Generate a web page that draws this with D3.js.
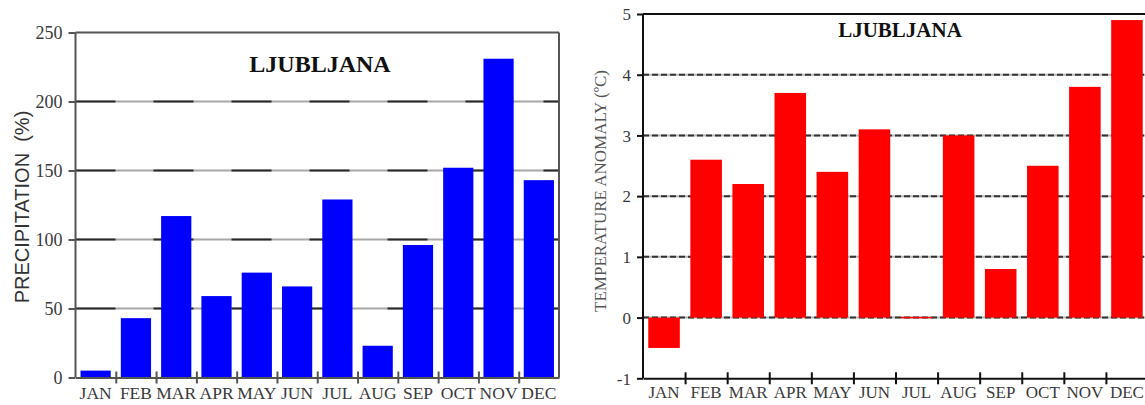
<!DOCTYPE html>
<html>
<head>
<meta charset="utf-8">
<script src="https://cdn.jsdelivr.net/npm/d3@7"></script>
<style>
  html, body { margin: 0; padding: 0; background: #fff; }
  svg { display: block; }
</style>
</head>
<body>
<svg id="chart" width="1145" height="405"></svg>
<script>
// Monthly anomalies for Ljubljana
const months = ["JAN","FEB","MAR","APR","MAY","JUN","JUL","AUG","SEP","OCT","NOV","DEC"];
const precipitation = [5, 43, 117, 59, 76, 66, 129, 23, 96, 152, 231, 143];       // % of normal
const temperatureAnomaly = [-0.5, 2.6, 2.2, 3.7, 2.4, 3.1, 0, 3.0, 0.8, 2.5, 3.8, 4.9]; // °C
const precipTicks = [0, 50, 100, 150, 200, 250];
const tempTicks = [-1, 0, 1, 2, 3, 4, 5];
const stationName = "LJUBLJANA";

const svg = d3.select("#chart");
const serif = "'Liberation Serif', 'Times New Roman', serif";
const sans = "'Liberation Sans', Arial, sans-serif";

function panel(opts) {
  const g = svg.append("g");
  const x = d3.scaleBand().domain(months)
    .range([opts.left, opts.right]).paddingInner(0.25).paddingOuter(0.125);
  const xEdges = d3.scaleLinear().domain([0, 12]).range([opts.left, opts.right]);
  const y = d3.scaleLinear().domain(opts.domain).range([opts.bottom, opts.top]);

  // horizontal grid lines
  const grid = g.append("g");
  opts.gridValues.forEach(v => {
    grid.append("line")
      .attr("x1", opts.left).attr("x2", opts.right)
      .attr("y1", y(v)).attr("y2", y(v))
      .attr("stroke", opts.gridBase).attr("stroke-width", opts.gridWidth);
    grid.append("line")
      .attr("x1", opts.left).attr("x2", opts.right)
      .attr("y1", y(v)).attr("y2", y(v))
      .attr("stroke", opts.gridDark).attr("stroke-width", opts.gridWidth)
      .attr("stroke-dasharray", opts.gridDash);
  });

  // bars
  const base = y(Math.max(opts.domain[0], 0));
  g.append("g").selectAll("rect").data(opts.values).join("rect")
    .attr("x", (d, i) => x(months[i]))
    .attr("width", x.bandwidth())
    .attr("y", d => Math.min(y(d), base) - (d === 0 ? 0.75 : 0))
    .attr("height", d => Math.max(Math.abs(y(d) - base), 1.5))
    .attr("fill", opts.barColor);

  // top frame line and right border
  g.append("line")
    .attr("x1", opts.left).attr("x2", opts.right)
    .attr("y1", opts.top).attr("y2", opts.top)
    .attr("stroke", opts.frameColor).attr("stroke-width", 2);
  g.append("line")
    .attr("x1", opts.right).attr("x2", opts.right)
    .attr("y1", opts.top).attr("y2", opts.bottom)
    .attr("stroke", opts.frameColor).attr("stroke-width", 2);

  // y axis
  const yAxis = g.append("g").attr("transform", `translate(${opts.left},0)`)
    .call(d3.axisLeft(y).tickValues(opts.ticks).tickFormat(d => String(d))
      .tickSize(opts.yTickSize).tickPadding(opts.yTickPad));
  yAxis.select(".domain").attr("stroke", opts.frameColor).attr("stroke-width", 2)
    .attr("d", `M0,${opts.top}V${opts.bottom}`);
  yAxis.selectAll(".tick line").attr("stroke", opts.frameColor).attr("stroke-width", 2);
  yAxis.selectAll(".tick text").attr("font-family", serif).attr("font-size", opts.yFont)
    .attr("fill", opts.textColor).attr("dy", "0.34em");

  // x axis: boundary ticks crossing the baseline
  const xAxis = g.append("g").attr("transform", `translate(0,${opts.bottom})`)
    .call(d3.axisBottom(xEdges).tickValues(d3.range(1, 12)).tickSize(0).tickFormat(""));
  xAxis.select(".domain").attr("stroke", opts.frameColor).attr("stroke-width", 2);
  xAxis.selectAll(".tick line").attr("stroke", opts.frameColor).attr("stroke-width", 2)
    .attr("y1", -6).attr("y2", 6);

  // month labels
  const labels = g.append("g").attr("transform", `translate(0,${opts.bottom})`)
    .call(d3.axisBottom(x).tickSize(0).tickPadding(0));
  labels.select(".domain").remove();
  labels.selectAll(".tick text").attr("font-family", serif).attr("font-size", opts.xFont)
    .attr("fill", opts.textColor).attr("dy", null).attr("y", opts.xLabelY);

  // station title
  g.append("text").attr("x", opts.titleX).attr("y", opts.titleY)
    .attr("text-anchor", "middle").attr("font-family", serif).attr("font-weight", "bold")
    .attr("font-size", opts.titleFont).attr("fill", "#111").text(stationName);

  // y axis title
  g.append("text")
    .attr("transform", `translate(${opts.yTitleX},${opts.yTitleY}) rotate(-90)`)
    .attr("text-anchor", "middle").attr("dy", "0.35em")
    .attr("font-family", opts.yTitleFamily).attr("font-size", opts.yTitleFont)
    .attr("fill", opts.yTitleColor)
    .attr("xml:space", "preserve").style("white-space", "pre")
    .text(opts.yTitle);
}

panel({
  values: precipitation, domain: [0, 250], ticks: precipTicks,
  left: 75.5, right: 559, top: 32.5, bottom: 377.5,
  gridValues: [50, 100, 150, 200],
  gridBase: "#a8a8a8", gridDark: "#2a2a2a", gridDash: "40,38", gridWidth: 2,
  barColor: "#0000ff", frameColor: "#555",
  yTickSize: 7, yTickPad: 6, yFont: 18, xFont: 17.5, xLabelY: 21.5,
  textColor: "#3a3a3a",
  titleX: 320, titleY: 71.5, titleFont: 24,
  yTitle: "PRECIPITATION  (%)", yTitleX: 22, yTitleY: 207,
  yTitleFamily: sans, yTitleFont: 20, yTitleColor: "#333"
});

panel({
  values: temperatureAnomaly, domain: [-1, 5], ticks: tempTicks,
  left: 643, right: 1148, top: 14, bottom: 378.3,
  gridValues: [0, 1, 2, 3, 4],
  gridBase: "#b8b8b8", gridDark: "#333", gridDash: "6,3", gridWidth: 2,
  barColor: "#ff0000", frameColor: "#111",
  yTickSize: 6, yTickPad: 6, yFont: 17, xFont: 17, xLabelY: 20,
  textColor: "#3a3a3a",
  titleX: 900, titleY: 36.5, titleFont: 21,
  yTitle: "TEMPERATURE ANOMALY (ºC)", yTitleX: 600, yTitleY: 191,
  yTitleFamily: serif, yTitleFont: 17, yTitleColor: "#555"
});
</script>
</body>
</html>
